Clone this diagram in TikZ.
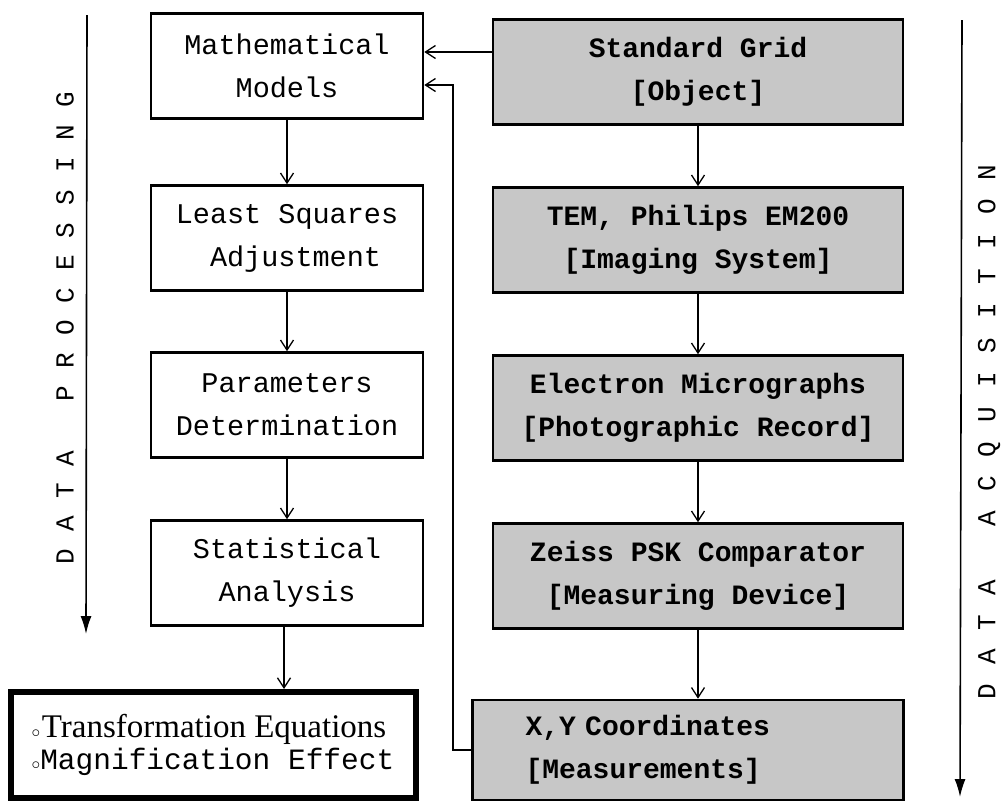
\documentclass[tikz,border=0pt]{standalone}
\usepackage{fontspec}
\setmainfont{Liberation Serif}
\setmonofont{Liberation Mono}
\usetikzlibrary{arrows.meta}
\newcommand\gapL{\hspace{17pt}}
\newcommand\gapR{\hspace{19pt}}
\tikzset{
  wbox/.style={draw, line width=2.6pt, fill=white, minimum width=272pt, minimum height=105pt,
    align=center, inner sep=0pt, font=\ttfamily\fontsize{28.5}{43}\selectfont},
  gbox/.style={wbox, fill=black!22, minimum width=410pt, font=\ttfamily\bfseries\fontsize{28}{43}\selectfont},
  obox/.style={draw, line width=6pt, fill=white, minimum width=405pt, minimum height=106pt,
    align=left, inner sep=0pt},
  arr/.style={line width=1.3pt, -{Straight Barb[length=10pt,width=13pt,line width=1.3pt]}},
  bigarr/.style={line width=1.6pt, -{Latex[length=18pt,width=11pt]}},
  side/.style={rotate=90, inner sep=0pt, font=\ttfamily\fontsize{26}{26}\selectfont}
}
\begin{document}
\begin{tikzpicture}[x=1pt,y=-1pt]
\useasboundingbox[fill=white] (0,0) rectangle (1006,804);
% left column
\node[wbox] (mm) at (287,66) {Mathematical\\Models};
\node[wbox] (ls) at (287,238) {Least Squares\\\ Adjustment};
\node[wbox] (pd) at (287,405) {Parameters\\Determination};
\node[wbox] (sa) at (287,573) {Statistical\\Analysis};
\node[obox] (out) at (213,745) {{\fontsize{18}{18}\selectfont$\circ$}\,{\rmfamily\fontsize{33}{44}\selectfont Transformation Equations}\\[2pt]
  {\fontsize{18}{18}\selectfont$\circ$}{\ttfamily\fontsize{29.5}{44}\selectfont Magnification Effect}};
% right column
\node[gbox] (sg) at (698,72) {Standard Grid\\{[}Object{]}};
\node[gbox] (tem) at (698,240) {TEM, Philips EM200\\{[}Imaging System{]}};
\node[gbox] (em) at (698,408) {Electron Micrographs\\{[}Photographic Record{]}};
\node[gbox] (ze) at (698,576) {Zeiss PSK Comparator\\{[}Measuring Device{]}};
\node[gbox, minimum width=431pt, minimum height=100pt, text width=325pt, inner xsep=53pt, align=left] (xy) at (688,750) {X,Y Coordinates\\{[}Measurements{]}};
% connectors
\draw[arr] (mm) -- (ls);
\draw[arr] (ls) -- (pd);
\draw[arr] (pd) -- (sa);
\draw[arr] (sa.south -| 284,0) -- (out.north -| 284,0);
\draw[arr] (sg) -- (tem);
\draw[arr] (tem) -- (em);
\draw[arr] (em) -- (ze);
\draw[arr] (ze.south) -- (ze.south |- xy.north);
\coordinate (h1) at (0,52);
\draw[arr] (sg.west |- h1) -- (mm.east |- h1);
\coordinate (fb) at (453,85);
\draw[arr] (xy.west) -| (fb) -- (mm.east |- fb);
% side arrows
\coordinate (pl1) at (87,15);
\coordinate (pl2) at (86,634);
\draw[bigarr] (pl1) -- (pl2);
\coordinate (pr1) at (962,20);
\coordinate (pr2) at (960,797);
\draw[bigarr] (pr1) -- (pr2);
\node[side] (lp) at (65,328) {D\gapL A\gapL T\gapL A\gapL\ \gapL P\gapL R\gapL O\gapL C\gapL E\gapL S\gapL S\gapL I\gapL N\gapL G};
\node[side] (la) at (989,432) {D\gapR A\gapR T\gapR A\gapR\ \gapR A\gapR C\gapR Q\gapR U\gapR I\gapR S\gapR I\gapR T\gapR I\gapR O\gapR N};
\end{tikzpicture}
\end{document}
